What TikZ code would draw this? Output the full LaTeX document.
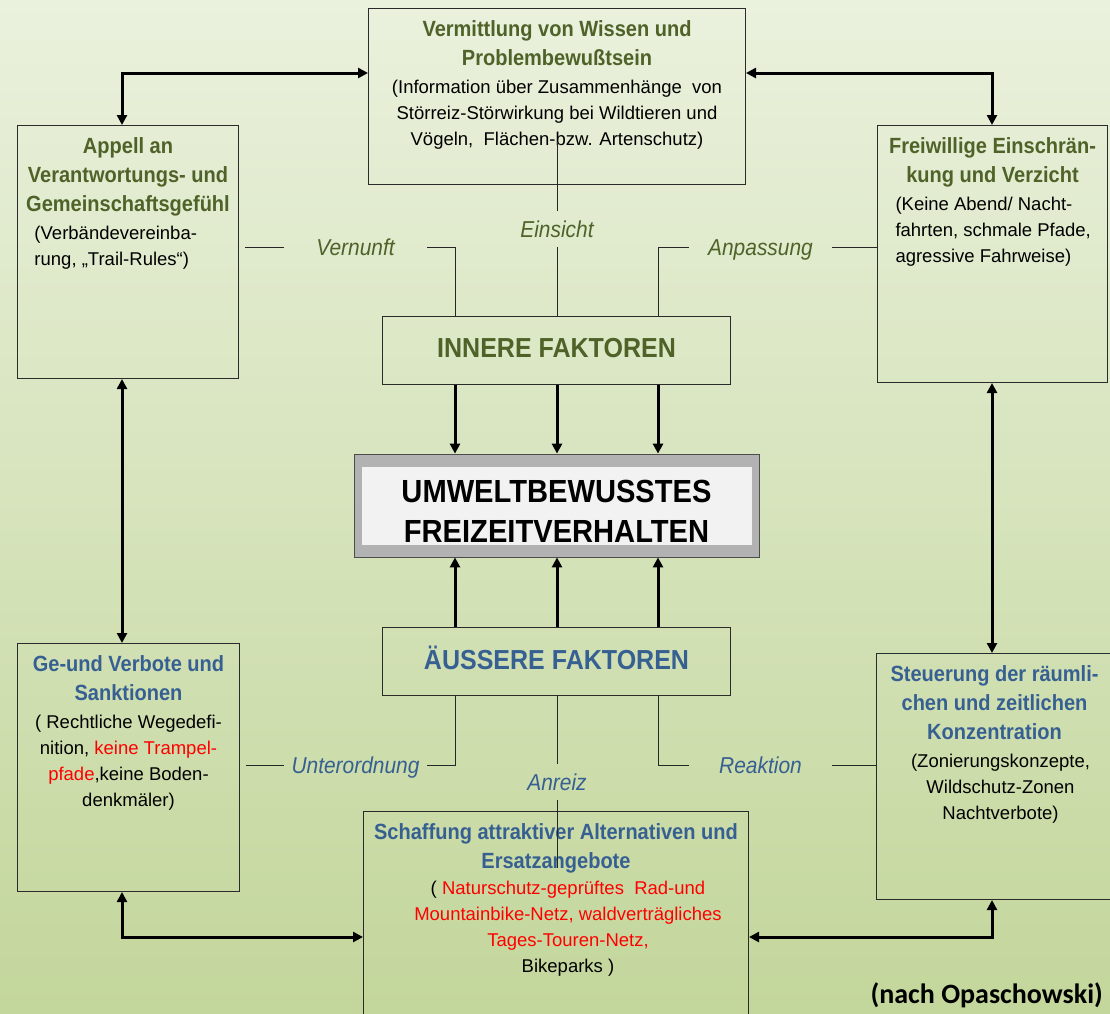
\documentclass[tikz,border=0pt]{standalone}
\usepackage{fontspec}
\setmainfont{Liberation Sans}
\newfontfamily\schmal[FakeStretch=0.91]{Liberation Sans}
\newfontfamily\carlito{Carlito}
\usetikzlibrary{positioning,arrows.meta}

\definecolor{oliv}{HTML}{4F6228}
\definecolor{blau}{HTML}{376092}
\definecolor{rot}{HTML}{FF0000}
\definecolor{rahmen}{HTML}{2B2B2B}
\definecolor{bgoben}{HTML}{EAF1DD}
\definecolor{bgunten}{HTML}{C3D69B}
\definecolor{grau}{HTML}{B2B2B2}
\definecolor{weiss}{HTML}{F2F2F2}

% text block inside a box: height, width, content
\newcommand{\kasten}[3]{\parbox[t][#1][t]{#2}{\centering #3}}
\newcommand*{\titel}{\schmal\bfseries\fontsize{22}{29}\selectfont}
\newcommand*{\fliess}{\fontsize{18.5}{26}\selectfont}

\begin{document}
\begin{tikzpicture}[x=1pt,y=1pt,
  % common options for the boxes:
  kasten/.style = {draw=rahmen, line width=1pt, inner xsep=0pt, inner ysep=12pt,
              anchor=north west},
  % the two factor boxes:
  faktor/.style = {draw=rahmen, line width=1pt, minimum width=348pt,
              minimum height=68pt, inner sep=0pt, text height=20pt, text depth=5pt,
              font=\schmal\bfseries\fontsize{27.5}{30}\selectfont},
  % italic words on the thin lines:
  stichwort/.style = {minimum width=143pt, inner xsep=0pt, inner ysep=10pt,
              text height=16pt, text depth=0pt,
              font=\schmal\itshape\fontsize{23}{26}\selectfont},
  linie/.style = {draw=black!85, line width=1pt},
  pfeil/.style = {draw=black, line width=3pt, >={Triangle[length=10pt,width=10pt]}}]

\useasboundingbox (0,0) rectangle (1110,-1013);
\clip (0,0) rectangle (1110,-1013);

% background
\shade[top color=bgoben, bottom color=bgunten] (0,0) rectangle (1110,-1013);

% columns and rows for the connectors
\coordinate (c1) at (455,0);
\coordinate (c2) at (557,0);
\coordinate (c3) at (658,0);
\coordinate (cl) at (122,0);
\coordinate (cr) at (992,0);
\coordinate (rt) at (0,-73);
\coordinate (rb) at (0,-937);

% box in the middle
\node[draw=black!70, line width=0.8pt, fill=grau, minimum width=405pt,
  minimum height=103pt, inner sep=0pt, align=center,
  font=\schmal\bfseries\fontsize{32}{40}\selectfont,
  path picture={\fill[weiss]
    ([shift={(8pt,-13pt)}]path picture bounding box.north west) rectangle
    ([shift={(-7pt,12pt)}]path picture bounding box.south east);}]
  (umwelt) at (556.5,-505.5) {\rule{0pt}{33pt}UMWELTBEWUSSTES\\ FREIZEITVERHALTEN};

% inner and outer factors
\node[faktor, text=oliv, above=69pt of umwelt] (innere) {INNERE FAKTOREN};
\node[faktor, text=blau, below=70pt of umwelt] (aeussere) {ÄUSSERE FAKTOREN};

% the six boxes
\node[kasten] (wissen) at (368,-8) {\kasten{152pt}{377pt}{%
  {\titel\color{oliv} Vermittlung von Wissen und\\ Problembewußtsein\par}\vspace{2pt}
  {\fliess (Information über Zusammenhänge\ \ von\\
    Störreiz-Störwirkung bei Wildtieren und\\
    Vögeln,\ \ Flächen-bzw. Artenschutz)\par}}};

\node[kasten] (appell) at (17,-125) {\kasten{229pt}{221pt}{%
  {\titel\color{oliv} Appell an\\ Verantwortungs- und\\ Gemeinschaftsgefühl\par}\vspace{2pt}
  {\fliess\raggedright\leftskip=17pt (Verbändevereinba-\\ rung, „Trail-Rules“)\par}}};

\node[kasten] (verzicht) at (877,-125) {\kasten{233pt}{230pt}{%
  {\titel\color{oliv} Freiwillige Einschrän-\\ kung und Verzicht\par}\vspace{2pt}
  {\fliess\raggedright\leftskip=18pt (Keine Abend/ Nacht-\\
    fahrten, schmale Pfade,\\ agressive Fahrweise)\par}}};

\node[kasten] (verbote) at (17,-643) {\kasten{224pt}{222pt}{%
  {\titel\color{blau} Ge-und Verbote und\\ Sanktionen\par}\vspace{2pt}
  {\fliess ( Rechtliche Wegedefi-\\
    nition, \textcolor{rot}{keine Trampel-}\\
    \textcolor{rot}{pfade},keine Boden-\\ denkmäler)\par}}};

\node[kasten] (steuerung) at (876,-653) {\kasten{222pt}{236pt}{%
  {\titel\color{blau} Steuerung der räumli-\\ chen und zeitlichen\\ Konzentration\par}\vspace{2pt}
  {\fliess\leftskip=12pt plus 1fil (Zonierungskonzepte,\\ Wildschutz-Zonen\\
    Nachtverbote)\par}}};

\node[kasten] (alternativen) at (363,-811) {\kasten{186pt}{385pt}{%
  {\titel\color{blau} Schaffung attraktiver Alternativen und\\ Ersatzangebote\par}
  {\fliess\leftskip=24pt plus 1fil ( \textcolor{rot}{Naturschutz-geprüftes\ \ Rad-und}\\
    \textcolor{rot}{Mountainbike-Netz, waldverträgliches}\\
    \textcolor{rot}{Tages-Touren-Netz,}\\ Bikeparks )\par}}};

% words on the thin lines
\node[stichwort, text=oliv] (vernunft) at (355.5,-247) {Vernunft};
\node[stichwort, text=oliv] (einsicht) at (557,-229) {Einsicht};
\node[stichwort, text=oliv] (anpassung) at (760.5,-247) {Anpassung};
\node[stichwort, text=blau] (unterordnung) at (355.5,-765) {Unterordnung};
\node[stichwort, text=blau] (anreiz) at (557,-782) {Anreiz};
\node[stichwort, text=blau] (reaktion) at (760.5,-765) {Reaktion};

% thin lines from the inner factors
\draw[linie] (innere.north -| c1) |- (vernunft.east);
\draw[linie, shorten >=6pt] (vernunft.west) -- (vernunft.west -| appell.east);
\draw[linie] (innere.north -| c2) -- (einsicht.south);
\draw[linie] (einsicht.north) -- ++(0,69);
\draw[linie] (innere.north -| c3) |- (anpassung.west);
\draw[linie] (anpassung.east) -- (anpassung.east -| verzicht.west);

% thin lines from the outer factors
\draw[linie] (aeussere.south -| c1) |- (unterordnung.east);
\draw[linie, shorten >=6pt] (unterordnung.west) -- (unterordnung.west -| verbote.east);
\draw[linie] (aeussere.south -| c2) -- (anreiz.north);
\draw[linie] (anreiz.south) -- ++(0,-68);
\draw[linie] (aeussere.south -| c3) |- (reaktion.west);
\draw[linie] (reaktion.east) -- (reaktion.east -| steuerung.west);

% arrows into the middle box
\foreach \c in {c1,c2,c3} {
  \draw[pfeil,->] (innere.south -| \c) -- (umwelt.north -| \c);
  \draw[pfeil,->] (aeussere.north -| \c) -- (umwelt.south -| \c);
}

% arrows round the outside
\draw[pfeil,<->] (cl |- appell.north) |- (wissen.west |- rt);
\draw[pfeil,<->] (wissen.east |- rt) -| (cr |- verzicht.north);
\draw[pfeil,<->] (cl |- appell.south) -- (cl |- verbote.north);
\draw[pfeil,<->] (cr |- verzicht.south) -- (cr |- steuerung.north);
\draw[pfeil,<->] (cl |- verbote.south) |- (alternativen.west |- rb);
\draw[pfeil,<->] (alternativen.east |- rb) -| (cr |- steuerung.south);

% source
\node[anchor=base east, inner sep=0pt,
  font=\carlito\bfseries\fontsize{28}{30}\selectfont] (quelle) at (1103,-1003)
  {(nach Opaschowski)};
\end{tikzpicture}
\end{document}
